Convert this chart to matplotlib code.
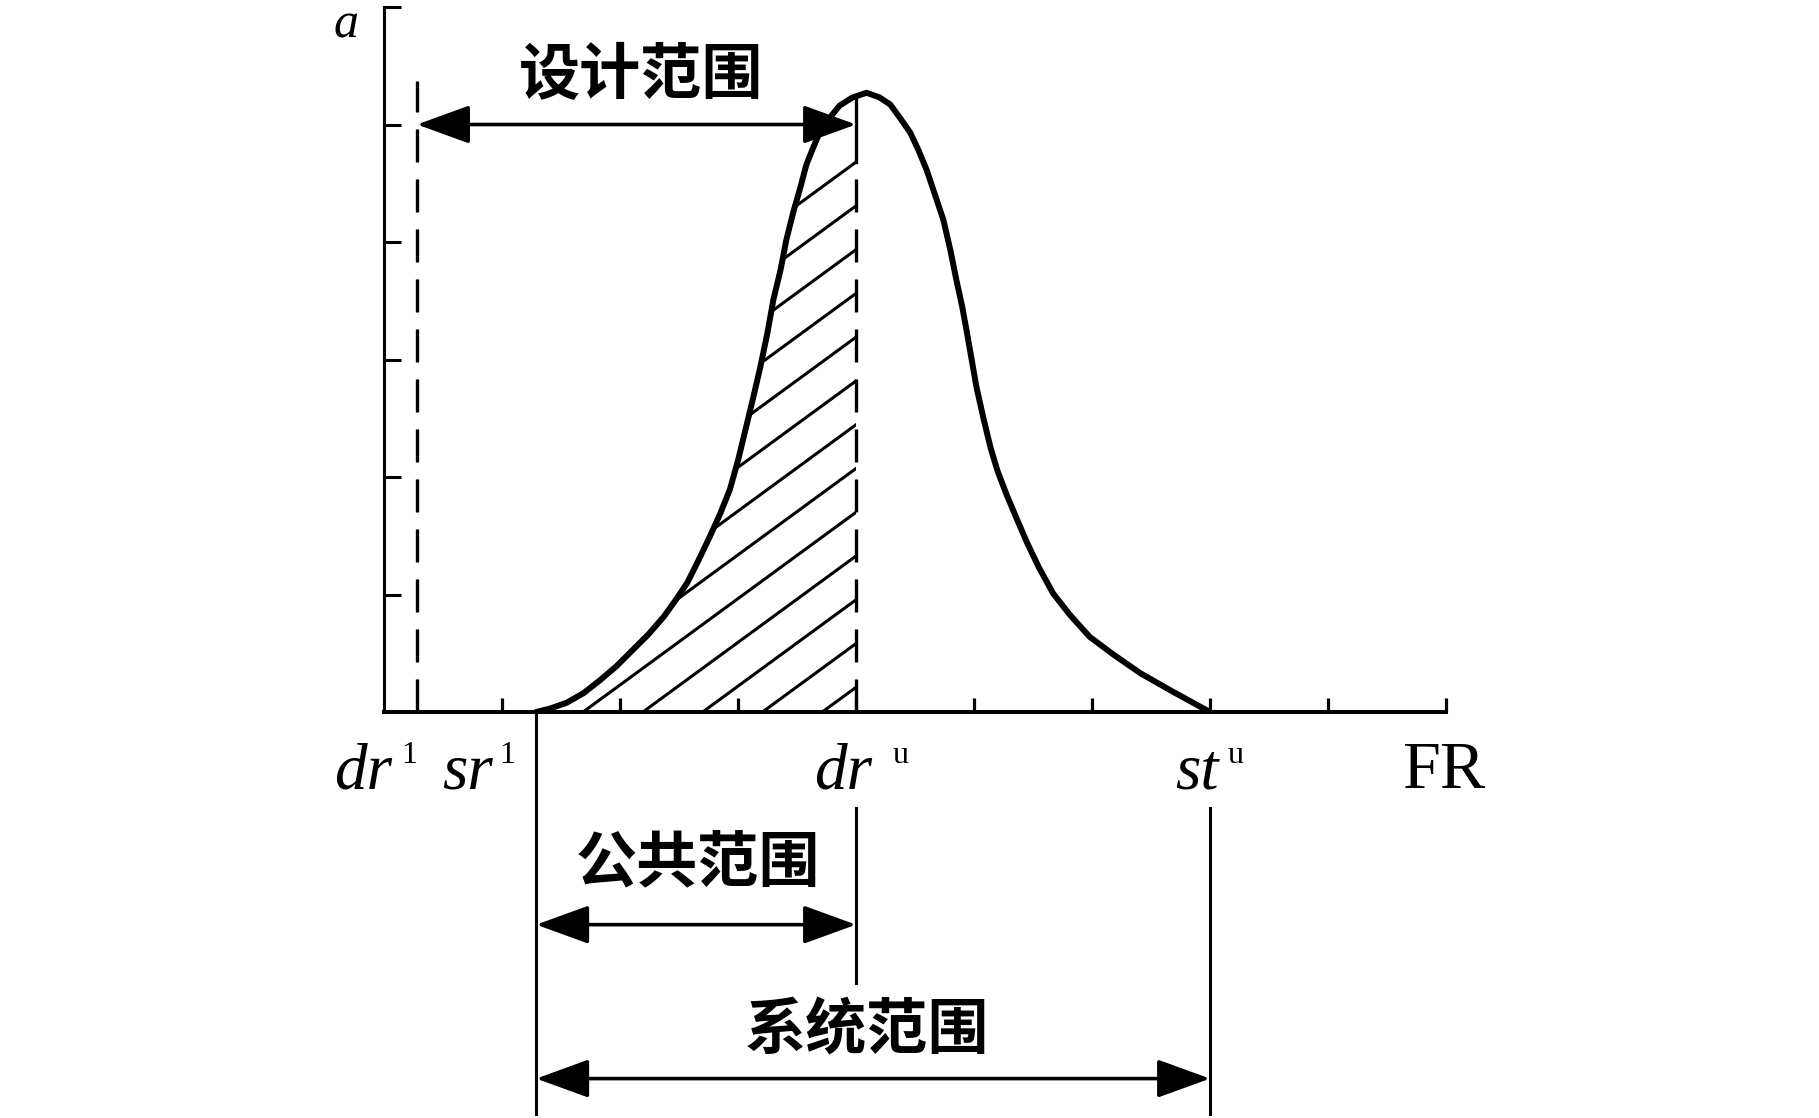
import numpy as np
import matplotlib
matplotlib.use('Agg')
import matplotlib.pyplot as plt
from matplotlib.patches import Polygon

plt.rcParams['lines.scale_dashes'] = False

# bell curve (x and y in tick units)
curve_x = [1.29, 1.41, 1.55, 1.69, 1.83, 1.97, 2.11, 2.24, 2.37, 2.47, 2.57, 2.66,
           2.76, 2.85, 2.93, 3.00, 3.07, 3.13, 3.19, 3.25, 3.30, 3.36, 3.41, 3.47,
           3.53, 3.58, 3.64, 3.70, 3.78, 3.86, 3.97, 4.09,
           4.20, 4.29, 4.37, 4.46, 4.53, 4.60, 4.67, 4.74, 4.80, 4.85, 4.90, 4.94,
           4.98, 5.02, 5.08, 5.14, 5.20, 5.28, 5.36, 5.45, 5.55, 5.67, 5.81, 5.98,
           6.18, 6.41, 6.69, 7.00]
curve_y = [0.00, 0.03, 0.08, 0.16, 0.27, 0.39, 0.53, 0.66, 0.81, 0.95, 1.10, 1.28,
           1.49, 1.69, 1.89, 2.14, 2.43, 2.68, 2.94, 3.23, 3.51, 3.76, 4.02, 4.26,
           4.47, 4.66, 4.81, 4.95, 5.06, 5.16, 5.23, 5.27,
           5.23, 5.17, 5.06, 4.93, 4.78, 4.61, 4.40, 4.19, 3.93, 3.68, 3.45, 3.23,
           3.00, 2.77, 2.50, 2.25, 2.05, 1.84, 1.65, 1.44, 1.23, 1.01, 0.83, 0.64,
           0.49, 0.33, 0.17, 0.00]

# range limits
dr_l, sr_l, dr_u, st_u = 0.28, 1.29, 4.0, 7.0
x_ticks = np.arange(1, 10)
y_ticks = np.arange(1, 7)

range_names = ['设计范围', '公共范围', '系统范围']
cjk = ['Noto Sans CJK SC', 'DejaVu Sans']
serif = 'Liberation Serif'

fig = plt.figure(figsize=(18.19, 11.18), dpi=100)
ax = fig.add_axes([384 / 1819, 406 / 1118, 1062 / 1819, 705 / 1118])
ax.set_xlim(0, 9)
ax.set_ylim(0, 6)
for s in ['top', 'right']:
    ax.spines[s].set_visible(False)
ax.spines['left'].set_linewidth(2.2)
ax.spines['bottom'].set_linewidth(2.9)
ax.set_xticks(x_ticks)
ax.set_yticks(y_ticks)
ax.tick_params(axis='x', direction='in', length=10, width=2.3, labelbottom=False)
ax.tick_params(axis='y', direction='in', length=12, width=2.2, labelleft=False)

# curve
ax.plot(curve_x, curve_y, color='k', lw=4.3, solid_joinstyle='round',
        solid_capstyle='round', zorder=3)

# hatched area between sr_l and dr_u
y_top = np.interp(dr_u, curve_x, curve_y)
inside = [(x, y) for x, y in zip(curve_x, curve_y) if x < dr_u]
region = Polygon(inside + [(dr_u, y_top), (dr_u, 0)], closed=True, fill=False,
                 edgecolor='none', transform=ax.transData)
ax.add_patch(region)
for c in 0.21 + 0.3725 * np.arange(13):
    hx = np.array([0, dr_u])
    ln, = ax.plot(hx, c + 0.735 * (hx - dr_u), color='k', lw=2.2)
    ln.set_clip_path(region)

# dashed limits
dash = (0, (23.8, 12.2))
ax.plot([dr_l, dr_l], [0, 5.37], color='k', lw=2.4, ls=dash)
ax.plot([dr_u, dr_u], [0, 4.68], color='k', lw=2.4, ls=dash)
ax.plot([dr_u, dr_u], [4.68, y_top], color='k', lw=2.4)

# lines below the axis
ax.plot([sr_l, sr_l], [0, -3.42], color='k', lw=2.2, clip_on=False)
ax.plot([dr_u, dr_u], [-0.82, -2.31], color='k', lw=2.2, clip_on=False)
ax.plot([st_u, st_u], [-0.82, -3.42], color='k', lw=2.2, clip_on=False)

# range arrows
arrow = dict(arrowstyle='<|-|>,head_length=3.3,head_width=1.2', mutation_scale=10,
             lw=2.6, color='k', shrinkA=0, shrinkB=0)
ax.annotate('', xy=(dr_u, 5.0), xytext=(dr_l, 5.0), arrowprops=arrow, annotation_clip=False)
ax.annotate('', xy=(dr_u, -1.81), xytext=(sr_l, -1.81), arrowprops=arrow, annotation_clip=False)
ax.annotate('', xy=(st_u, -3.12), xytext=(sr_l, -3.12), arrowprops=arrow, annotation_clip=False)

ax.text(2.18, 5.41, range_names[0], family=cjk, fontsize=44, weight='bold',
        ha='center', va='center')
ax.text(2.66, -1.29, range_names[1], family=cjk, fontsize=44, weight='bold',
        ha='center', va='center', clip_on=False)
ax.text(4.09, -2.72, range_names[2], family=cjk, fontsize=44, weight='bold',
        ha='center', va='center', clip_on=False)

# axis labels
base_y, sup_y = -0.65, -0.43
for base, sup, xr, xs in [('dr', '1', 0.07, 0.15), ('sr', '1', 0.92, 0.98),
                          ('dr', 'u', 4.14, 4.31), ('st', 'u', 7.07, 7.15)]:
    ax.text(xr, base_y, base, family=serif, style='italic', fontsize=47,
            ha='right', va='baseline')
    ax.text(xs, sup_y, sup, family=serif, fontsize=23, ha='left', va='baseline')
ax.text(8.98, base_y, 'FR', family=serif, fontsize=49, ha='center', va='baseline')
ax.text(-0.32, 5.74, 'a', family=serif, style='italic', fontsize=36,
        ha='center', va='baseline')

fig.savefig('out.png', dpi=100)
